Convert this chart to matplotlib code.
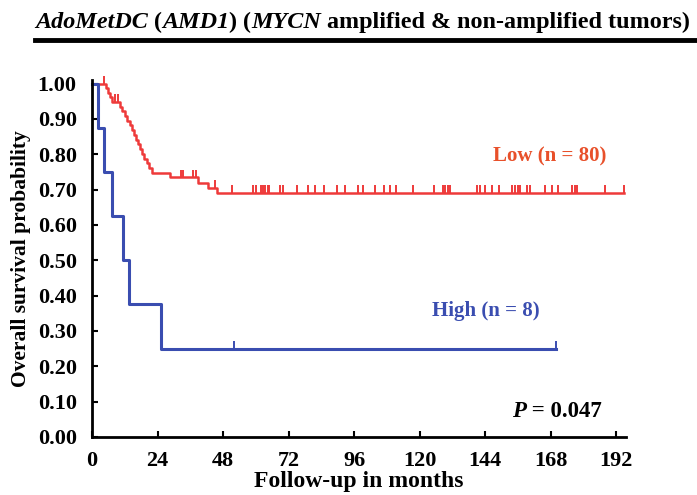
import numpy as np
import matplotlib
matplotlib.use("Agg")
import matplotlib.pyplot as plt

plt.rcParams['font.family'] = ['Liberation Serif', 'DejaVu Serif']
plt.rcParams['font.weight'] = 'bold'
plt.rcParams['axes.labelweight'] = 'bold'

# survival data (months)
low_events = [5.0, 5.8, 6.6, 7.3, 10.3, 10.9, 12.1, 13.0, 13.9, 14.5, 15.3,
              16.2, 17.0, 17.7, 18.4, 19.2, 20.0, 20.8, 21.9, 28.6, 39.0,
              42.6, 45.7]
low_censored = [4.4, 8.4, 9.6, 32.5, 33.3, 37.0, 38.2, 45.0, 51.2, 59.0, 60.0,
                62.0, 62.7, 63.5, 64.3, 65.0, 69.0, 70.0, 75.0, 79.0, 81.7, 84.8,
                89.9, 92.5, 97.6, 99.4, 103.7, 106.8, 109.2, 111.4, 117.7, 125.3,
                128.5, 129.4, 130.3, 131.2, 141.0, 142.0, 144.0, 146.5, 148.9,
                154.0, 155.0, 156.0, 156.8, 159.4, 160.5, 166.0, 168.5, 170.8,
                176.0, 176.8, 177.6, 188.0, 194.7]
high_events = [2.3, 4.4, 7.4, 11.5, 13.6, 25.3]
high_censored = [52.0, 170.0]

x_ticks = [0, 24, 48, 72, 96, 120, 144, 168, 192]
y_ticks = [0.0, 0.1, 0.2, 0.3, 0.4, 0.5, 0.6, 0.7, 0.8, 0.9, 1.0]

RED = '#ee3a3a'
BLUE = '#3a4db0'


def kaplan_meier(events, censored):
    times = sorted([(t, 1) for t in events] + [(t, 0) for t in censored])
    n = len(times)
    s = 1.0
    xs, ys = [0.0], [1.0]
    cx, cy = [], []
    for t, e in times:
        if e:
            s *= (n - 1) / n
            xs.append(t)
            ys.append(s)
        else:
            cx.append(t)
            cy.append(s)
        n -= 1
    xs.append(times[-1][0])
    ys.append(s)
    return xs, ys, cx, cy


fig = plt.figure(figsize=(6.97, 4.95), dpi=100)
ax = fig.add_axes([92 / 697, 58 / 495, 534 / 697, 357 / 495])

for ev, ce, col, lw in [(low_events, low_censored, RED, 1.8),
                        (high_events, high_censored, BLUE, 2.2)]:
    xs, ys, cx, cy = kaplan_meier(ev, ce)
    ax.step(xs, ys, where='post', color=col, lw=lw, clip_on=False)
    ax.vlines(cx, cy, np.array(cy) + 0.022, color=col, lw=1.4, clip_on=False)

ax.set_xlim(0, 195.6)
ax.set_ylim(0, 1.01)
ax.spines['top'].set_visible(False)
ax.spines['right'].set_visible(False)
ax.spines['left'].set_linewidth(2)
ax.spines['bottom'].set_linewidth(2)
ax.set_xticks(x_ticks)
ax.set_yticks(y_ticks)
ax.set_yticklabels(['%.2f' % v for v in y_ticks])
ax.tick_params(direction='in', length=4, width=1.5, labelsize=16)
ax.tick_params(axis='y', pad=11)
ax.tick_params(axis='x', pad=10)
ax.set_xlabel('Follow-up in months', fontsize=17, labelpad=0)
ax.set_ylabel('Overall survival probability', fontsize=15.5, labelpad=5)

ax.text(167.8, 0.793, 'Low (n = 80)', color='#e8502a', fontsize=15,
        ha='center', va='center')
ax.text(144.4, 0.357, 'High (n = 8)', color=BLUE, fontsize=15,
        ha='center', va='center')

renderer = fig.canvas.get_renderer()


def pieces(x, y, parts, size, trans):
    # draw text pieces side by side, style may change from piece to piece
    for txt, style in parts:
        t = fig.text(x, y, txt, fontsize=size, style=style, transform=trans,
                     va='baseline')
        bb = t.get_window_extent(renderer)
        x += bb.width / fig.bbox.width


title_parts = [('AdoMetDC', 'italic'), (' (', 'normal'), ('AMD1', 'italic'),
               (') (', 'normal'), ('MYCN', 'italic'),
               (' amplified & non-amplified tumors)', 'normal')]
pieces(35 / 697, 1 - 28 / 495, title_parts, 17.4, fig.transFigure)
fig.add_artist(plt.Line2D([35 / 697, 1.0], [1 - 40 / 495] * 2, color='black',
                          lw=3.5, transform=fig.transFigure))

pieces(512 / 697, 1 - 417 / 495, [('P', 'italic'), (' = 0.047', 'normal')],
       16.5, fig.transFigure)

fig.savefig('out.png', dpi=100)
